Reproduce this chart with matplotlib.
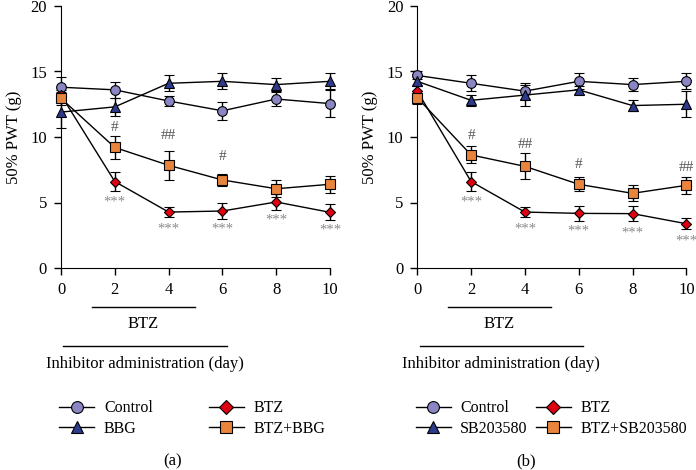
import matplotlib.pyplot as plt
from matplotlib.lines import Line2D

plt.rcParams['font.family'] = 'Liberation Serif'
plt.rcParams['font.size'] = 12

days = [0, 2, 4, 6, 8, 10]

# panel (a)
ctrl_a = [13.8, 13.6, 12.75, 12.0, 12.9, 12.55]
ctrl_a_err = [0.8, 0.6, 0.4, 0.7, 0.5, 1.0]
bbg_a = [11.9, 12.3, 14.1, 14.25, 14.0, 14.25]
bbg_a_err = [1.2, 0.7, 0.6, 0.6, 0.5, 0.6]
btz_a = [13.2, 6.6, 4.27, 4.35, 5.04, 4.25]
btz_a_err = [0.4, 0.7, 0.4, 0.6, 0.6, 0.6]
comb_a = [12.95, 9.2, 7.84, 6.72, 6.05, 6.39]
comb_a_err = [0.5, 0.9, 1.1, 0.45, 0.65, 0.65]
hash_a = {2: ('#', 10.7), 4: ('##', 10.1), 6: ('#', 8.5)}
star_a = {2: 5.0, 4: 3.0, 6: 2.95, 8: 3.65, 10: 2.9}

# panel (b)
ctrl_b = [14.7, 14.1, 13.5, 14.25, 14.0, 14.25]
ctrl_b_err = [0.3, 0.6, 0.6, 0.6, 0.5, 0.6]
sb_b = [14.25, 12.8, 13.2, 13.6, 12.4, 12.5]
sb_b_err = [0.3, 0.4, 0.8, 0.3, 0.4, 1.0]
btz_b = [13.5, 6.6, 4.27, 4.17, 4.15, 3.38]
btz_b_err = [0.4, 0.7, 0.4, 0.6, 0.6, 0.4]
comb_b = [13.0, 8.63, 7.76, 6.39, 5.7, 6.31]
comb_b_err = [0.5, 0.65, 1.0, 0.55, 0.6, 0.65]
hash_b = {2: ('#', 10.1), 4: ('##', 9.45), 6: ('#', 7.9), 10: ('##', 7.7)}
star_b = {2: 5.0, 4: 3.0, 6: 2.8, 8: 2.7, 10: 2.05}

c_ctrl = '#8A86C4'
c_inh = '#2E3A8C'
c_btz = '#E00010'
c_comb = '#E8843C'


def draw(ax, series, hashes, stars, labels, colspace, letter, letter_x):
    styles = [('o', c_ctrl, 7), ('^', c_inh, 7), ('D', c_btz, 5.5), ('s', c_comb, 7)]
    handles = []
    for (y, e), (m, c, ms), lab in zip(series, styles, labels):
        ax.errorbar(days, y, yerr=e, fmt='-' + m, color='black', mfc=c, mec='black',
                     ms=ms, mew=0.8, lw=1, elinewidth=1, capsize=3.5, capthick=1,
                     clip_on=False, zorder=3)
        handles.append(Line2D([], [], color='black', lw=1, marker=m, mfc=c, mec='black',
                              ms=ms + 1.5, mew=0.8))
    for x, (s, y) in hashes.items():
        ax.text(x, y, s, ha='center', va='center', color='#555555', fontsize=11)
    for x, y in stars.items():
        ax.text(x, y, '***', ha='center', va='center', color='#8a8a8a', fontsize=10.5)

    ax.set_xlim(0, 10)
    ax.set_ylim(0, 20)
    ax.set_xticks(days)
    ax.set_yticks([0, 5, 10, 15, 20])
    ax.spines[['top', 'right']].set_visible(False)
    ax.tick_params(direction='out', length=5, width=1, pad=5)
    ax.set_ylabel('50% PWT (g)', labelpad=6)

    ax.plot([1.14, 4.97], [-3.0, -3.0], color='black', lw=1, clip_on=False)
    ax.text(3.05, -4.25, 'BTZ', ha='center', va='center')
    ax.plot([0.09, 6.16], [-5.95, -5.95], color='black', lw=1, clip_on=False)
    ax.text(3.12, -7.35, 'Inhibitor administration (day)', ha='center', va='center')

    ax.legend(handles, labels, ncol=2, fontsize=11.5,
              loc='upper left', bbox_to_anchor=(-0.03, -0.48), frameon=False,
              handlelength=2.2, handletextpad=0.6, labelspacing=0.3,
              columnspacing=colspace, borderaxespad=0)
    ax.figure.text(letter_x, 1 - 461 / 470, letter, ha='center', va='center')


fig = plt.figure(figsize=(6.96, 4.70), dpi=100)
ax1 = fig.add_axes([61 / 696, 1 - 268 / 470, 269 / 696, 262 / 470])
ax2 = fig.add_axes([417.3 / 696, 1 - 268 / 470, 269 / 696, 262 / 470])

draw(ax1, [(ctrl_a, ctrl_a_err), (bbg_a, bbg_a_err), (btz_a, btz_a_err), (comb_a, comb_a_err)],
     hash_a, star_a, ['Control', 'BBG', 'BTZ', 'BTZ+BBG'], 3.5, '(a)', 173 / 696)
draw(ax2, [(ctrl_b, ctrl_b_err), (sb_b, sb_b_err), (btz_b, btz_b_err), (comb_b, comb_b_err)],
     hash_b, star_b, ['Control', 'SB203580', 'BTZ', 'BTZ+SB203580'], 0.5, '(b)', 525.7 / 696)

fig.savefig('out.png', dpi=100)
